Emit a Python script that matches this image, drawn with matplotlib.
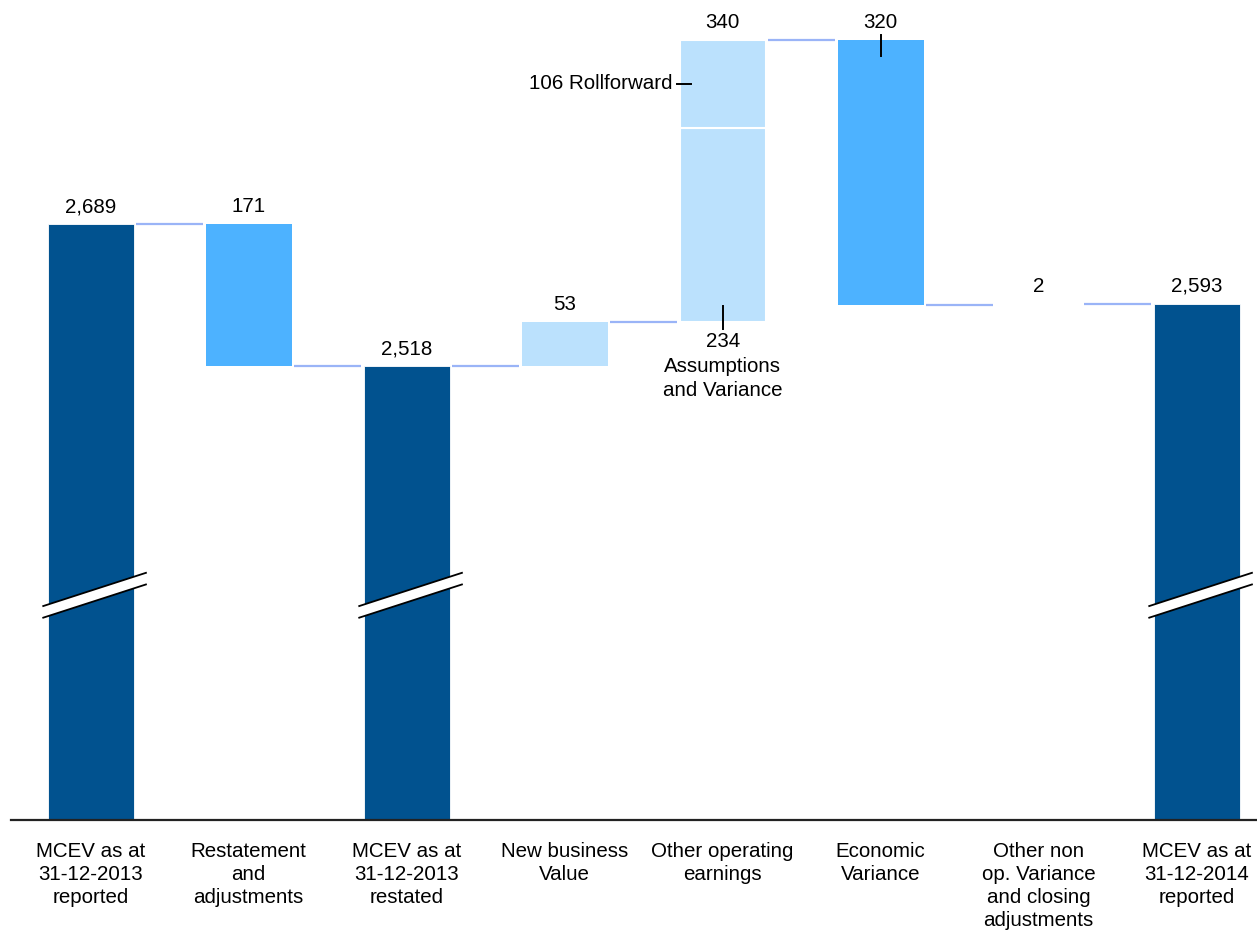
import matplotlib.pyplot as plt
from matplotlib.patches import Polygon

plt.rcParams['font.family'] = ['Liberation Sans', 'DejaVu Sans']

categories = ["MCEV as at\n31-12-2013\nreported", "Restatement\nand\nadjustments",
              "MCEV as at\n31-12-2013\nrestated", "New business\nValue",
              "Other operating\nearnings", "Economic\nVariance",
              "Other non\nop. Variance\nand closing\nadjustments",
              "MCEV as at\n31-12-2014\nreported"]
values = [2689, -171, 2518, 53, 340, -320, 2, 2593]
is_total = [True, False, True, False, False, False, False, True]
value_labels = ["2,689", "171", "2,518", "53", "340", "320", "2", "2,593"]
# split of the "Other operating earnings" step
assumptions = 234
rollforward = 106

DARK = "#01528f"
MID = "#4db2ff"
LIGHT = "#bbe1fd"
CONN = "#9ab4f7"
FS = 14.8

fig = plt.figure(figsize=(12.57, 9.36), dpi=100)
ax = fig.add_axes([11 / 1257, 116 / 936, 1 - 11 / 1257, 820 / 936])
ax.set_xlim(-0.504, 7.382)
ax.set_ylim(1971.4, 2958.7)

w = 0.544
level = 0
tops = []
levels = []
for i, v in enumerate(values):
    if is_total[i]:
        ax.bar(i, v, w, bottom=0, color=DARK, edgecolor="white", linewidth=0.6)
        level = v
        top = v
    else:
        lo = min(level, level + v)
        hi = max(level, level + v)
        if i == 4:
            ax.bar(i, assumptions, w, bottom=level, color=LIGHT, edgecolor="white", linewidth=1.5)
            ax.bar(i, rollforward, w, bottom=level + assumptions, color=LIGHT, edgecolor="white", linewidth=1.5)
        else:
            face = "none" if abs(v) < 5 else (MID if v < 0 else LIGHT)
            ax.bar(i, hi - lo, w, bottom=lo, color=face, edgecolor="none")
        top = max(hi, level) if v > 0 else level
        level = level + v
    tops.append(top)
    levels.append(level)

# connectors
for i in range(len(values) - 1):
    ax.plot([i + 0.29, i + 1 - 0.29], [levels[i], levels[i]], color=CONN, lw=1.6,
            solid_capstyle="butt", zorder=1)

# value labels
for i, lab in enumerate(value_labels):
    ax.annotate(lab, (i, tops[i]), xytext=(0, 12.5), textcoords="offset points",
                ha="center", va="center", fontsize=FS)

# tick for the 320 label
ax.plot([5, 5], [2911 + 6, 2911 - 20], color="black", lw=1.4)

# rollforward annotation
mid_roll = levels[3] + assumptions + rollforward / 2
ax.plot([4 - 0.29, 4 - 0.20], [mid_roll, mid_roll], color="black", lw=1.4)
ax.text(4 - 0.32, mid_roll, "106 Rollforward", ha="right", va="center", fontsize=FS)

# assumptions annotation
base4 = levels[3]
ax.plot([4, 4], [base4 + 19, base4 - 8], color="black", lw=1.4)
ax.annotate("234\nAssumptions\nand Variance", (4, base4), xytext=(0, -7.5),
            textcoords="offset points", ha="center", va="top", fontsize=FS,
            linespacing=1.36)

# axis break marks on the total bars
brk = 2242
for i, t in enumerate(is_total):
    if not t:
        continue
    x0, x1 = i - 0.30, i + 0.35
    ax.add_patch(Polygon([(x0, brk - 27), (x1, brk + 13), (x1, brk + 27), (x0, brk - 13)],
                         closed=True, facecolor="white", edgecolor="none", zorder=3))
    for off in (-7, 7):
        ax.plot([x0, x1], [brk - 20 + off, brk + 20 + off], color="black", lw=1.3, zorder=4)

for s in ["top", "left", "right"]:
    ax.spines[s].set_visible(False)
ax.spines["bottom"].set_color("#222222")
ax.spines["bottom"].set_linewidth(1.6)
ax.set_yticks([])
ax.set_xticks(range(len(categories)))
ax.set_xticklabels(categories, fontsize=FS, linespacing=1.28)
ax.tick_params(axis="x", length=0, pad=15.5)

fig.savefig("out.png", dpi=100)
